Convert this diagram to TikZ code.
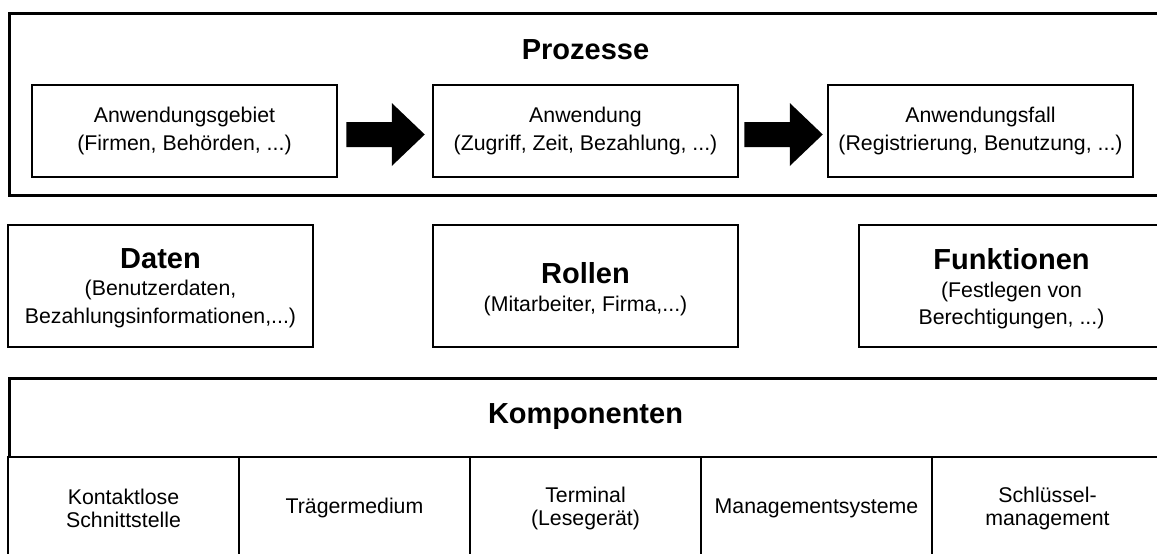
\documentclass[tikz,border=0pt]{standalone}
\usepackage{fontspec}
\setmainfont{Liberation Sans}
\usetikzlibrary{calc}
\begin{document}
\begin{tikzpicture}[x=1pt,y=-1pt,
  box/.style={draw=black, line width=2.5pt, fill=white, inner sep=0pt},
  body/.style={font=\fontsize{21.3}{27.5}\selectfont, align=center},
  cell/.style={box, font=\fontsize{21.3}{23}\selectfont, align=center,
    minimum width=231pt, minimum height=102pt},
  heading/.style={font=\fontsize{29}{33}\selectfont\bfseries},
  blockarrow/.style={to path={
    ($(\tikztostart)+(0,-12.5)$) -- ($(\tikztotarget)+(-33,-12.5)$)
    -- ($(\tikztotarget)+(-33,-31.5)$) -- (\tikztotarget)
    -- ($(\tikztotarget)+(-33,31.5)$) -- ($(\tikztotarget)+(-33,12.5)$)
    -- ($(\tikztostart)+(0,12.5)$) -- cycle}}]
\useasboundingbox (0,0) rectangle (1157,554);
\fill[white] (0,0) rectangle (1157,554);

% Prozesse
\node[box, minimum width=1157pt, minimum height=182pt, anchor=north west] (prozesse) at (8,12) {};
\node[heading] (prozesseTitel) at (585.5,50) {Prozesse};
\node[box, body, minimum width=305pt, minimum height=92pt] (gebiet) at (184.5,131)
  {Anwendungsgebiet\\(Firmen, Behörden, ...)};
\node[box, body, minimum width=305pt, minimum height=92pt] (anwendung) at (585.5,131)
  {Anwendung\\(Zugriff, Zeit, Bezahlung, ...)};
\node[box, body, minimum width=305pt, minimum height=92pt] (fall) at (980.5,131)
  {Anwendungsfall\\(Registrierung, Benutzung, ...)};

\coordinate (a1s) at ($(gebiet.east)+(8,3.5)$);
\coordinate (a1e) at ($(anwendung.west)+(-7,3.5)$);
\coordinate (a2s) at ($(anwendung.east)+(5,3.5)$);
\coordinate (a2e) at ($(fall.west)+(-4,3.5)$);
\fill[black] (a1s) to[blockarrow] (a1e);
\fill[black] (a2s) to[blockarrow] (a2e);

% Daten, Rollen, Funktionen
\node[box, minimum width=305pt, minimum height=122pt] (daten) at (160.5,286) {};
\node[body] (datenText) at (160.5,288)
  {{\fontsize{29}{33}\selectfont\bfseries Daten}\\(Benutzerdaten,\\Bezahlungsinformationen,...)};
\node[box, minimum width=305pt, minimum height=122pt] (rollen) at (585.5,286) {};
\node[body] (rollenText) at (585.5,289)
  {{\fontsize{29}{33}\selectfont\bfseries Rollen}\\(Mitarbeiter, Firma,...)};
\node[box, minimum width=305pt, minimum height=122pt] (funktionen) at (1011.5,286) {};
\node[body] (funktionenText) at (1011.5,289)
  {{\fontsize{29}{33}\selectfont\bfseries Funktionen}\\(Festlegen von\\Berechtigungen, ...)};

% Komponenten
\node[box, minimum width=1155pt, minimum height=182pt, anchor=north west] (komponenten) at (8,377) {};
\node[heading] (komponentenTitel) at (585.5,417) {Komponenten};
\node[cell] (k1) at (123.5,508) {Kontaktlose\\Schnittstelle};
\node[cell] (k2) at (354.5,508) {Trägermedium};
\node[cell] (k3) at (585.5,508) {Terminal\\(Lesegerät)};
\node[cell] (k4) at (816.5,508) {Managementsysteme};
\node[cell] (k5) at (1047.5,508) {Schlüssel-\\management};
\end{tikzpicture}
\end{document}
